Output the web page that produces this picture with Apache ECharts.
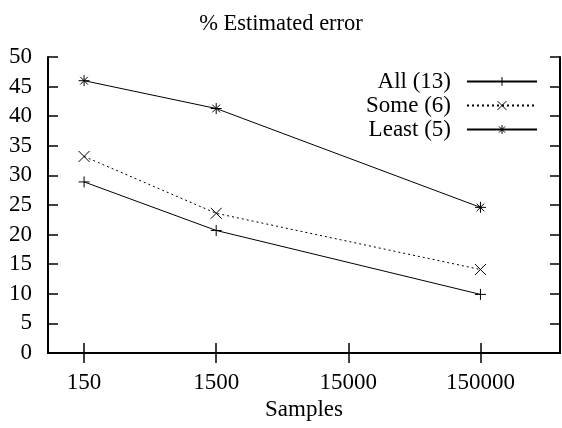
<!DOCTYPE html>
<html>
<head>
<meta charset="utf-8">
<script src="https://cdn.jsdelivr.net/npm/echarts@6/dist/echarts.min.js"></script>
<style>
  html, body { margin: 0; padding: 0; background: #fff; }
  #chart { width: 562px; height: 428px; }
</style>
</head>
<body>
<div id="chart"></div>
<script>
// data
const samples = [150, 1500, 150000];
const xTicks = [150, 1500, 15000, 150000];
const allErr = [28.9, 20.7, 9.9];
const someErr = [33.2, 23.6, 14.1];
const leastErr = [46.0, 41.3, 24.6];
const names = ["All (13)", "Some (6)", "Least (5)"];

const font = "'Liberation Serif', 'DejaVu Serif', 'Times New Roman', serif";
const fs = 23;
const plusPath = "path://M0,5L10,5M5,0L5,10";
const crossPath = "path://M0,0L10,10M10,0L0,10";
const starPath = "path://M0,5L10,5M5,0L5,10M1.5,1.5L8.5,8.5M8.5,1.5L1.5,8.5";

function pairs(vals) {
  return samples.map((s, i) => [s, vals[i]]);
}

const chart = echarts.init(document.getElementById("chart"));

function makeSeries(name, vals, symbol, dashed) {
  return {
    name: name,
    type: "line",
    data: pairs(vals),
    symbol: symbol,
    symbolSize: 11,
    showSymbol: true,
    animation: false,
    lineStyle: { color: "#000", width: 1, type: dashed ? [2, 3] : "solid" },
    itemStyle: { color: "none", borderColor: "#000", borderWidth: 1 },
  };
}

const legendBase = {
  orient: "vertical",
  right: 24,
  padding: 0,
  itemWidth: 70,
  itemHeight: 11,
  align: "right",
  itemStyle: { color: "none", borderColor: "#000", borderWidth: 1 },
  textStyle: { fontFamily: font, fontSize: fs, color: "#000", padding: [0, 11, 0, 0] },
};

const option = {
  backgroundColor: "#fff",
  title: {
    text: "% Estimated error",
    left: "center",
    top: 8,
    textStyle: { fontFamily: font, fontSize: 22.5, fontWeight: "normal", color: "#000" },
  },
  legend: [
    Object.assign({}, legendBase, { top: 70, data: [names[0]] }),
    Object.assign({}, legendBase, { top: 94, data: [names[1]] }),
    Object.assign({}, legendBase, { top: 118, data: [names[2]] }),
  ],
  grid: { left: 48, right: 2, top: 57, bottom: 75 },
  xAxis: [
    {
      type: "log",
      logBase: 10,
      min: 80,
      max: 600000,
      name: "Samples",
      nameLocation: "middle",
      nameGap: 42,
      nameTextStyle: { fontFamily: font, fontSize: fs, color: "#000" },
      axisLine: { lineStyle: { color: "#000", width: 2 } },
      axisTick: { inside: true, length: 10, customValues: xTicks, lineStyle: { color: "#000", width: 1.5 } },
      axisLabel: {
        customValues: xTicks,
        fontFamily: font,
        fontSize: fs,
        color: "#000",
        margin: 18,
        formatter: (v) => String(Math.round(v)),
      },
      splitLine: { show: false },
      minorTick: { show: false },
    },
    {
      type: "log",
      logBase: 10,
      position: "top",
      min: 80,
      max: 600000,
      axisLine: { lineStyle: { color: "#000", width: 2 } },
      axisTick: { inside: true, length: 10, customValues: xTicks, lineStyle: { color: "#000", width: 1.5 } },
      axisLabel: { show: false },
      splitLine: { show: false },
    },
  ],
  yAxis: [
    {
      type: "value",
      min: 0,
      max: 50,
      interval: 5,
      axisLine: { show: true, lineStyle: { color: "#000", width: 2 } },
      axisTick: { show: true, inside: true, length: 10, lineStyle: { color: "#000", width: 1.5 } },
      axisLabel: { fontFamily: font, fontSize: fs, color: "#000", margin: 16 },
      splitLine: { show: false },
    },
    {
      type: "value",
      position: "right",
      min: 0,
      max: 50,
      interval: 5,
      axisLine: { show: true, lineStyle: { color: "#000", width: 2 } },
      axisTick: { show: true, inside: true, length: 10, lineStyle: { color: "#000", width: 1.5 } },
      axisLabel: { show: false },
      splitLine: { show: false },
    },
  ],
  series: [
    makeSeries(names[0], allErr, plusPath, false),
    makeSeries(names[1], someErr, crossPath, true),
    makeSeries(names[2], leastErr, starPath, false),
  ],
};

chart.setOption(option);
</script>
</body>
</html>
